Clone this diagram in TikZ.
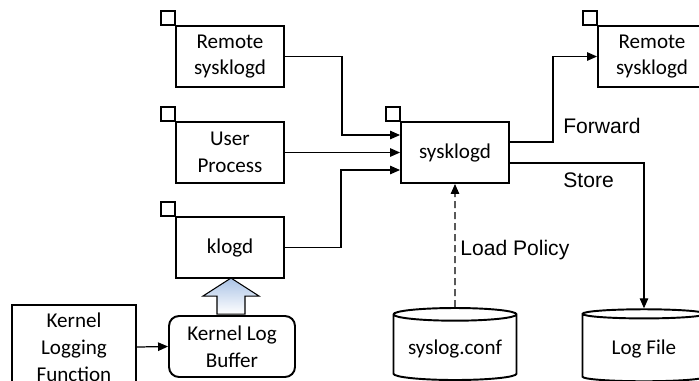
\documentclass[tikz,border=0pt]{standalone}
\usepackage{fontspec}
\setmainfont{Carlito}
\newfontfamily\labelfont{Liberation Sans}
\usetikzlibrary{positioning,arrows.meta,calc,shapes.geometric}
\definecolor{bufblue}{RGB}{170,195,230}

\begin{document}
\begin{tikzpicture}[x=0.02cm,y=-0.02cm,>={Triangle[length=0.2cm,width=0.17cm]},
  proc/.style={draw,line width=1.1pt,minimum width=2.16cm,minimum height=1.22cm,align=center,font=\fontsize{12}{15.3}\selectfont},
  store/.style={draw,line width=1.1pt,cylinder,shape border rotate=90,aspect=0.12,minimum width=2.46cm,minimum height=1.44cm,font=\fontsize{12}{15.3}\selectfont},
  link/.style={line width=0.7pt},
  lbl/.style={font=\labelfont\fontsize{12}{14}\selectfont,anchor=base west,inner sep=0pt}]
  \useasboundingbox (0,0) rectangle (699,380);
  % processes
  \node[proc] (remote) at (230,56.5) {Remote\\sysklogd};
  \node[proc] (user) at (230,152.5) {User\\Process};
  \node[proc] (klogd) at (230,247.5) {klogd};
  \node[proc] (sysk) at (455,152.5) {sysklogd};
  \node[proc] (fwd) at (652,56.5) {Remote\\sysklogd};
  \node[proc,minimum width=2.48cm,minimum height=1.68cm] (kfunc) at (74,347) {Kernel\\Logging\\Function};
  \node[proc,rounded corners=0.2cm,minimum width=2.52cm] (kbuf) at (232,346.5) {Kernel Log\\Buffer};
  \node[store] (conf) at (455,349) {syslog.conf};
  \node[store] (logf) at (644,349) {Log File};
  % ports
  \foreach \n in {remote,user,klogd,sysk,fwd}
    \draw[line width=0.8pt] (\n.north west) rectangle ++(-14,-14);
  % connectors
  \coordinate (in1) at ($(sysk.west)+(0,-17.5)$);
  \coordinate (in3) at ($(sysk.west)+(0,17.5)$);
  \coordinate (out1) at ($(sysk.east)+(0,-10.5)$);
  \coordinate (out2) at ($(sysk.east)+(0,10.5)$);
  \draw[link,->] (remote.east) -| ($(in1)+(-58,0)$) -- (in1);
  \draw[link,->] (user.east) -- (sysk.west);
  \draw[link,->] (klogd.east) -| ($(in3)+(-59,0)$) -- (in3);
  \draw[link,->] (out1) -| ($(fwd.west)+(-44,0)$) -- (fwd.west);
  \draw[link,->] (out2) -| (logf.north);
  \draw[link,->,dash pattern=on 0.14cm off 0.08cm] (conf.north) -- (sysk.south);
  \draw[link,->] (kfunc.east) -- (kbuf.west);
  % block arrow
  \draw[line width=0.6pt,top color=bufblue,bottom color=white]
    ($(kbuf.north)+(-15,-1)$) -- ++(28,0) -- ++(0,-18) -- ++(14,0)
    -- ++(-28,-18) -- ++(-28,18) -- ++(14,0) -- cycle;
  % labels
  \node[lbl] (fwdlbl) at (563,133) {Forward};
  \node[lbl] (storelbl) at (563,187) {Store};
  \node[lbl] (loadlbl) at (460,255) {Load Policy};
\end{tikzpicture}
\end{document}
